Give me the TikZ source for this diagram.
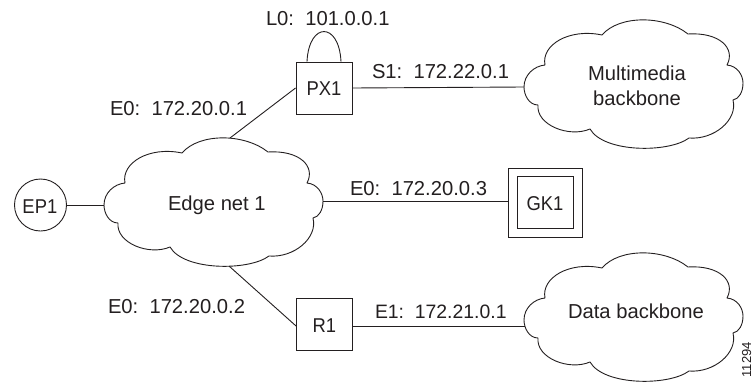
\documentclass[tikz,border=0pt]{standalone}
\usepackage{graphicx}
\usepackage{fontspec}
\setmainfont{Liberation Sans}
\definecolor{ink}{HTML}{231F20}
\newcommand{\narrowed}[1]{\scalebox{0.92}[1]{#1}}
\newcommand{\cloudshape}{(0,67) .. controls (0,55) and (10,46) .. (21,45)
  .. controls (17,25) and (45,8) .. (78,15)
  .. controls (95,-5) and (140,-5) .. (164,14)
  .. controls (195,12) and (212,28) .. (203,45)
  .. controls (214,46) and (219,56) .. (219,63)
  .. controls (219,72) and (215,79) .. (209,80)
  .. controls (214,100) and (190,120) .. (165,118)
  .. controls (145,133) and (80,133) .. (66,109)
  .. controls (45,118) and (12,105) .. (14,85)
  .. controls (5,85) and (0,75) .. (0,67) -- cycle}
\tikzset{
  conn/.style={draw=ink,line width=0.9pt},
  cloudline/.style={draw=ink,line width=0.9pt,line join=round},
  lab/.style={anchor=base west,inner sep=0pt,outer sep=0pt,text=ink,font=\fontsize{20.2}{24}\selectfont},
  devlab/.style={anchor=base west,inner sep=0pt,outer sep=0pt,text=ink,font=\fontsize{20}{24}\selectfont},
  ctr/.style={anchor=base,inner sep=0pt,outer sep=0pt,text=ink,font=\fontsize{20.2}{24}\selectfont},
  boxnode/.style={draw=ink,line width=0.9pt,inner sep=0pt,minimum width=56pt,minimum height=52pt},
  ringnode/.style={draw=ink,line width=0.9pt,circle,inner sep=0pt,minimum size=52pt}
}
\begin{document}
\begin{tikzpicture}[x=1pt,y=-1pt]
\useasboundingbox (0,0) rectangle (753,383);
% clouds
\begin{scope}[shift={(104,138)}]
  \draw[cloudline] \cloudshape;
  \coordinate (edgeW) at (0,67);
  \coordinate (edgeE) at (219,63);
  \coordinate (edgeN) at (126,0);
  \coordinate (edgeS) at (125,128);
\end{scope}
\begin{scope}[shift={(524,20)}]
  \draw[cloudline] \cloudshape;
  \coordinate (mmW) at (0,67);
\end{scope}
\begin{scope}[shift={(524,253)}]
  \draw[cloudline] \cloudshape;
  \coordinate (dataW) at (1,73);
\end{scope}
% devices
\node[ringnode] (ep1) at (40.5,205) {};
\node[boxnode] (px1) at (324,88) {};
\node[boxnode] (r1) at (324.5,324) {};
\node[draw=ink,line width=0.9pt,inner sep=0pt,minimum width=74pt,minimum height=69pt] (gkouter) at (545,202.5) {};
\node[boxnode] (gk1) at (545,202) {};
% connectors
\draw[conn] (ep1.east) -- (edgeW);
\draw[conn] (edgeN) -- (px1.west);
\draw[conn] (edgeS) -- ([yshift=-2pt]r1.west);
\draw[conn] (edgeE) -- (gkouter.west |- edgeE);
\draw[conn] (px1.east) -- (mmW);
\draw[conn] ([yshift=-2pt]r1.east) -- (dataW);
\draw[conn] ([xshift=-17pt]px1.north) .. controls +(2,-40) and +(-2,-40) .. ([xshift=17pt]px1.north);
% labels
\node[lab] (tL0) at (266,25) {L0:\ \ 101.0.0.1};
\node[lab] (tE01) at (110,115) {E0:\ \ 172.20.0.1};
\node[lab] (tS1) at (372,78) {S1:\ \ 172.22.0.1};
\node[lab] (tE03) at (350,195) {E0:\ \ 172.20.0.3};
\node[lab] (tE02) at (108,313) {E0:\ \ 172.20.0.2};
\node[lab,font=\fontsize{19.4}{24}\selectfont] (tE1) at (375,318) {E1:\ \ 172.21.0.1};
\node[lab] (tEdge) at (168,210) {Edge net 1};
\node[ctr] (tMM1) at (637,80) {Multimedia};
\node[ctr] (tMM2) at (637,105) {backbone};
\node[ctr] (tData) at (636,318) {Data backbone};
\node[devlab] (tEP1) at (22.5,213) {\narrowed{EP1}};
\node[devlab] (tPX1) at (306.5,95) {\narrowed{PX1}};
\node[devlab] (tGK1) at (526.5,210) {\narrowed{GK1}};
\node[devlab] (tR1) at (312.5,332) {\narrowed{R1}};
\node[anchor=base east,rotate=90,inner sep=0pt,text=ink,font=\fontsize{13}{16}\selectfont] (tid) at (751,342) {11294};
\end{tikzpicture}
\end{document}
